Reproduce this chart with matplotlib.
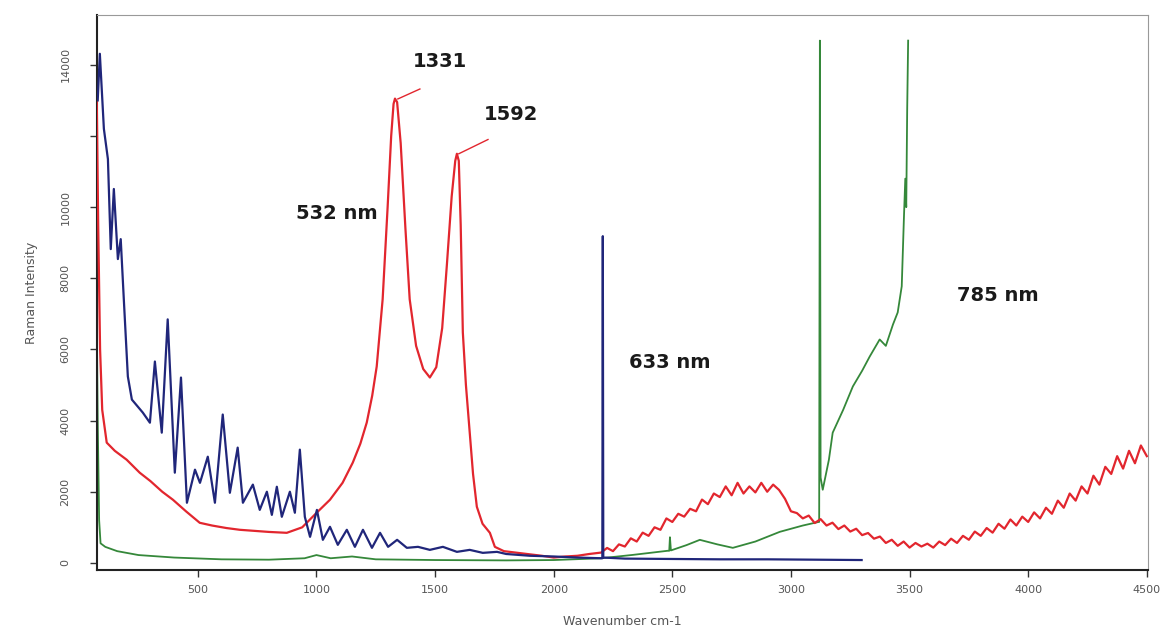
"""Raman spectra of the same sample excited at 532, 633 and 785 nm."""
import matplotlib
matplotlib.use("Agg")
import matplotlib.pyplot as plt

# 532 nm excitation (red): D band at 1331, G band at 1592, noisy background above 2200
wn_532 = [74, 80, 88, 97, 116, 150, 200, 255, 300, 350, 395, 450, 508, 560, 620, 677, 740, 800,
          875, 940, 1001, 1057, 1110, 1153, 1185, 1212, 1235, 1254, 1279, 1300, 1315, 1325, 1331,
          1340, 1355, 1375, 1393, 1420, 1450, 1478, 1505, 1530, 1550, 1570, 1585, 1592, 1600, 1608,
          1617, 1630, 1646, 1660, 1676, 1700, 1731, 1752, 1790, 1850, 1900, 1950, 2000, 2050, 2100,
          2150,
          2200, 2225, 2250, 2275, 2300, 2325, 2350, 2375, 2400, 2425, 2450, 2475, 2500, 2525, 2550,
          2575, 2600, 2625, 2650, 2675, 2700, 2725, 2750, 2775, 2800, 2825, 2850, 2875, 2900, 2925,
          2950, 2975, 3000, 3025, 3050, 3075, 3100, 3125, 3150, 3175, 3200, 3225, 3250, 3275, 3300,
          3325, 3350, 3375, 3400, 3425, 3450, 3475, 3500, 3525, 3550, 3575, 3600, 3625, 3650, 3675,
          3700, 3725, 3750, 3775, 3800, 3825, 3850, 3875, 3900, 3925, 3950, 3975, 4000, 4025, 4050,
          4075, 4100, 4125, 4150, 4175, 4200, 4225, 4250, 4275, 4300, 4325, 4350, 4375, 4400, 4425,
          4450, 4475, 4500]
int_532 = [13000, 9500, 6000, 4300, 3380, 3150, 2900, 2535, 2300, 2000, 1775, 1450, 1127, 1050,
           980, 930, 900, 870, 845, 1000, 1410, 1775, 2250, 2817, 3350, 3944, 4700, 5521, 7409,
           10000, 12000, 12900, 13050, 12950, 11800, 9400, 7409, 6100, 5450, 5211, 5500, 6600, 8400,
           10300, 11300, 11500, 11300, 9500, 6479, 5000, 3662, 2500, 1578, 1100, 845, 451, 330, 280,
           240, 200, 150, 180, 200, 250,
           290, 420, 330, 520, 460, 690, 600, 850, 760, 1000, 930, 1250, 1150, 1380, 1300,
           1520, 1450, 1780, 1650, 1950, 1850, 2150, 1900, 2250, 1950, 2150, 1980, 2250, 2000, 2200,
           2050, 1800, 1450, 1400, 1250, 1330, 1120, 1230, 1050, 1130, 950, 1050, 880, 960, 780,
           840, 680, 740, 560, 650, 480, 600, 430, 560, 460, 540, 430, 600, 500, 680,
           560, 760, 650, 880, 760, 980, 850, 1100, 960, 1220, 1050, 1300, 1150, 1420, 1250,
           1550, 1380, 1750, 1550, 1950, 1750, 2150, 1950, 2450, 2200, 2700, 2500, 3000, 2650, 3150,
           2800, 3300, 3000]

# 633 nm excitation (navy)
wn_633 = [78, 87, 104, 121, 133, 146, 163, 175, 188, 205, 222, 268, 298, 319, 348, 373, 403, 429,
          454, 488, 509, 542, 572, 605, 635, 668, 690, 732, 761, 791, 812, 833, 854, 888, 909, 930,
          951, 973, 1002, 1027, 1057, 1090, 1128, 1162, 1196, 1234, 1268, 1302, 1340, 1381, 1428,
          1478, 1533, 1592, 1646, 1701, 1761, 1800, 1900, 2000, 2100, 2200, 2205, 2207, 2209, 2300,
          2500, 2700, 2900, 3100, 3298]
int_633 = [13000, 14310, 12200, 11350, 8820, 10510, 8540, 9100, 7410, 5240, 4590, 4225, 3940, 5660,
           3660, 6845, 2535, 5210, 1690, 2620, 2250, 2985, 1690, 4170, 1970, 3240, 1690, 2200, 1490,
           2000, 1350, 2140, 1295, 2000, 1409, 3183, 1295, 732, 1490, 648, 1014, 507, 930, 451, 930,
           423, 845, 451, 648, 423, 451, 366, 451, 310, 366, 282, 310, 250, 200, 180, 150, 130, 130,
           9183, 150, 120, 110, 100, 100, 90, 80]

# 785 nm excitation (green), fluorescence takes over above ~3100
wn_785 = [74, 78, 84, 90, 110, 160, 250, 400, 600, 800, 950, 1000, 1060, 1150, 1250, 1500, 1800,
          2000, 2200, 2334, 2480, 2487, 2490, 2494, 2560, 2616, 2690, 2755, 2850, 2953, 3050, 3116,
          3119, 3122, 3125, 3134, 3160, 3176, 3220, 3261, 3300, 3332, 3374, 3400, 3430, 3450, 3467,
          3476, 3482, 3486, 3490, 3494]
int_785 = [6850, 4000, 1200, 550, 450, 330, 220, 150, 100, 90, 130, 220, 130, 180, 100, 80, 70, 80,
           130, 225, 340, 340, 720, 350, 500, 648, 520, 423, 600, 873, 1050, 1150, 1150, 14680, 2400,
           2056, 2900, 3660, 4300, 4960, 5400, 5800, 6280, 6100, 6700, 7040, 7775, 9660, 10800,
           10000, 12760, 14680]

x_ticks = [500, 1000, 1500, 2000, 2500, 3000, 3500, 4000, 4500]
y_ticks = [0, 2000, 4000, 6000, 8000, 10000, 12000, 14000]
y_ticklabels = ["0", "2000", "4000", "6000", "8000", "10000", "", "14000"]

RED = "#e2262e"
NAVY = "#20267a"
GREEN = "#35883a"

fig = plt.figure(figsize=(11.71, 6.36), dpi=100)
ax = fig.add_axes([97 / 1171, 1 - 570 / 636, (1148 - 97) / 1171, (570 - 15) / 636])

ax.plot(wn_785, int_785, color=GREEN, lw=1.3, zorder=2)
ax.plot(wn_532, int_532, color=RED, lw=1.6, zorder=3)
ax.plot(wn_633, int_633, color=NAVY, lw=1.6, zorder=4)

ax.set_xlim(75, 4505)
ax.set_ylim(-200, 15400)
ax.set_xticks(x_ticks)
ax.set_yticks(y_ticks)
ax.set_yticklabels(y_ticklabels, rotation=90, va="center")
ax.tick_params(axis="both", direction="out", length=5, width=1, labelsize=8,
               labelcolor="#555555", color="#333333")
ax.tick_params(axis="x", pad=6)
ax.tick_params(axis="y", pad=14)

for side in ("left", "bottom"):
    ax.spines[side].set_linewidth(1.5)
    ax.spines[side].set_color("#222222")
for side in ("top", "right"):
    ax.spines[side].set_linewidth(0.8)
    ax.spines[side].set_color("#999999")

ax.set_xlabel("Wavenumber cm-1", fontsize=9, color="#555555", labelpad=14)
ax.set_ylabel("Raman Intensity", fontsize=9, color="#555555", labelpad=16)

# peak labels with short leader lines
lab = dict(fontsize=14, fontweight="bold", color="#1a1a1a", ha="center", va="center")
ax.plot([1343, 1436], [13040, 13320], color=RED, lw=1, zorder=5)
ax.text(1520, 14100, "1331", **lab)
ax.plot([1600, 1723], [11500, 11900], color=RED, lw=1, zorder=5)
ax.text(1820, 12600, "1592", **lab)
ax.text(1085, 9830, "532 nm", **lab)
ax.text(2490, 5620, "633 nm", **lab)
ax.text(3870, 7520, "785 nm", **lab)

fig.savefig("out.png", dpi=100)
